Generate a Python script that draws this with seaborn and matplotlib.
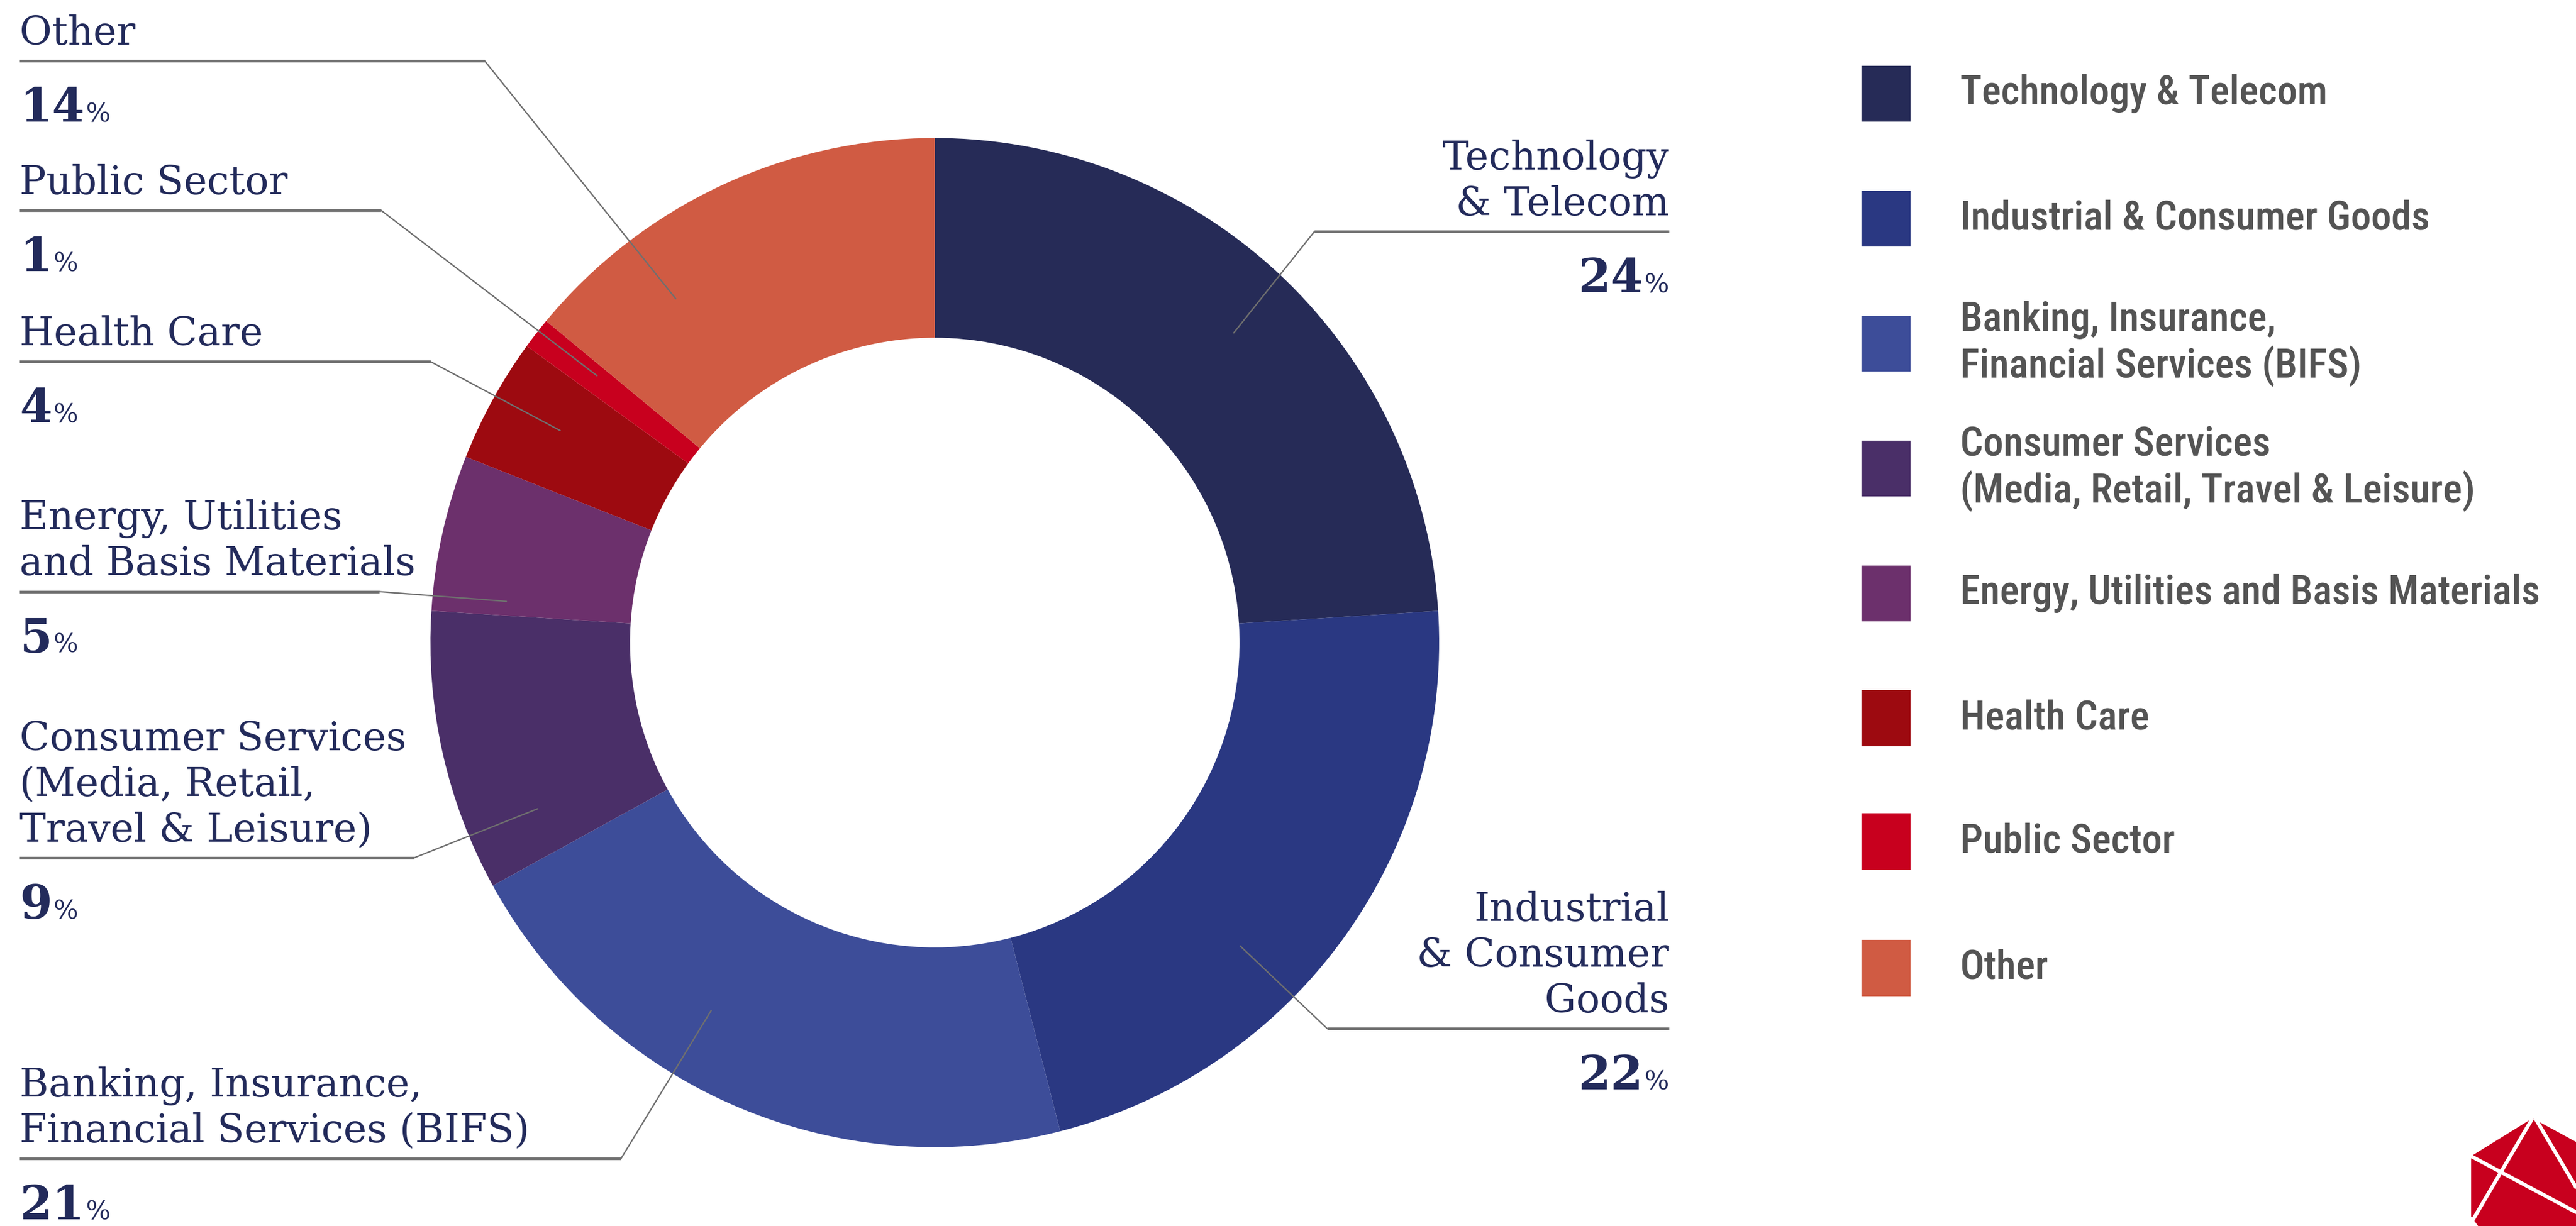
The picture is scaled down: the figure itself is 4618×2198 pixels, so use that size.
import matplotlib
matplotlib.use("Agg")
import numpy as np
import matplotlib.pyplot as plt
import seaborn as sns
from matplotlib import font_manager as fm
from matplotlib.patches import Polygon

# ---- data -------------------------------------------------------------
sectors = [
    "Technology & Telecom",
    "Industrial & Consumer Goods",
    "Banking, Insurance, Financial Services (BIFS)",
    "Consumer Services (Media, Retail, Travel & Leisure)",
    "Energy, Utilities and Basis Materials",
    "Health Care",
    "Public Sector",
    "Other",
]
shares = [24, 22, 21, 9, 5, 4, 1, 14]
callout_labels = [
    "Technology\n& Telecom",
    "Industrial\n& Consumer\nGoods",
    "Banking, Insurance,\nFinancial Services (BIFS)",
    "Consumer Services\n(Media, Retail,\nTravel & Leisure)",
    "Energy, Utilities\nand Basis Materials",
    "Health Care",
    "Public Sector",
    "Other",
]
legend_labels = [
    "Technology & Telecom",
    "Industrial & Consumer Goods",
    "Banking, Insurance,\nFinancial Services (BIFS)",
    "Consumer Services\n(Media, Retail, Travel & Leisure)",
    "Energy, Utilities and Basis Materials",
    "Health Care",
    "Public Sector",
    "Other",
]
sector_colors = ["#262b57", "#2a3882", "#3d4d99", "#4a2f68",
                 "#6c306c", "#9d0a10", "#c8001e", "#d05b43"]

# ---- layout (canvas units, y measured from the top) -------------------
W, H = 1568.0, 746.0
CX, CY = 569.0, 391.0
R_OUT, R_IN = 307.0, 185.5
# side, y of the rule under the label, x where the rule bends, anchor angle
callout_layout = [
    ("right", 141, 800, 46.0),
    ("right", 626, 808, -44.8),
    ("left", 705, 378, 238.7),
    ("left", 522, 252, 202.7),
    ("left", 360, 231, 174.5),
    ("left", 220, 262, 150.5),
    ("left", 128, 232, 141.7),
    ("left", 37, 295, 127.0),
]
ANCHOR_R = 262.0
LEFT_X, RIGHT_X = 12.0, 1016.0
legend_y = [57, 133, 209, 285, 361, 437, 512, 589]
SW_X0, SW_W, SW_H = 1133.0, 30.0, 34.0
LEG_TX = 1193.0

NAVY = "#232b5b"
RULE = "#6f6f6f"
LEG_TEXT = "#545454"

sns.set_theme(style="white")
installed = {f.name for f in fm.fontManager.ttflist}


def pick(*names):
    for n in names:
        if n in installed:
            return n
    return "DejaVu Sans"


SERIF = pick("Roboto Slab", "DejaVu Serif")
NUM_FONT = pick("Roboto Slab", "DejaVu Serif Condensed", "DejaVu Serif")
COND = pick("Roboto Condensed", "Liberation Sans Narrow", "Roboto")
plt.rcParams["font.family"] = [SERIF, "DejaVu Sans"]

DPI = 200
fig = plt.figure(figsize=(4618 / DPI, 2198 / DPI), dpi=DPI)
ax = fig.add_axes([0, 0, 1, 1])
renderer = fig.canvas.get_renderer()


def Y(y):
    return H - y


def text_width(t):
    bb = t.get_window_extent(renderer).transformed(ax.transData.inverted())
    return bb.x0, bb.x1


def fitted_size(s, family, weight, target):
    probe = ax.text(0, 0, s, fontsize=20, family=family, fontweight=weight)
    x0, x1 = text_width(probe)
    probe.remove()
    return 20 * target / (x1 - x0)


# ---- donut ------------------------------------------------------------
wedges, _ = ax.pie(
    shares,
    colors=sector_colors,
    startangle=90,
    counterclock=False,
    radius=R_OUT,
    center=(CX, Y(CY)),
    wedgeprops=dict(width=R_OUT - R_IN, linewidth=0, edgecolor="none"),
)
ax.set_xlim(0, W)
ax.set_ylim(0, H)
ax.set_aspect("auto")
ax.axis("off")

# ---- callouts ---------------------------------------------------------
label_size = fitted_size("Financial Services (BIFS)", SERIF, "normal", 310)
num_size = label_size * (1.28 if NUM_FONT != SERIF else 1.18)
pct_size = label_size * 0.66
LINE_STEP = 27.8

for value, label, (side, ry, bend, ang) in zip(shares, callout_labels, callout_layout):
    lines = label.split("\n")
    ha = "left" if side == "left" else "right"
    tx = LEFT_X if side == "left" else RIGHT_X
    base = ry - 10
    for k, line in enumerate(reversed(lines)):
        ax.text(tx, Y(base - k * LINE_STEP), line, ha=ha, va="baseline",
                fontsize=label_size, color=NAVY, family=SERIF)
    # rule and leader
    ax_x = CX + ANCHOR_R * np.cos(np.radians(ang))
    ax_y = CY - ANCHOR_R * np.sin(np.radians(ang))
    if side == "left":
        ax.plot([LEFT_X, bend], [Y(ry), Y(ry)], color=RULE, lw=1.7,
                solid_capstyle="butt", zorder=4)
    else:
        ax.plot([bend, RIGHT_X], [Y(ry), Y(ry)], color=RULE, lw=1.7,
                solid_capstyle="butt", zorder=4)
    ax.plot([bend, ax_x], [Y(ry), Y(ax_y)], color=RULE, lw=0.9, zorder=4)
    # percentage: bold figure + small percent sign
    py = Y(ry + 37)
    if side == "left":
        t = ax.text(tx, py, str(value), ha="left", va="baseline", fontsize=num_size,
                    fontweight="bold", color=NAVY, family=NUM_FONT)
        _, x1 = text_width(t)
        ax.text(x1 + 0.6, py, "%", ha="left", va="baseline", fontsize=pct_size,
                color=NAVY, family=NUM_FONT)
    else:
        t = ax.text(tx, py, "%", ha="right", va="baseline", fontsize=pct_size,
                    color=NAVY, family=NUM_FONT)
        x0, _ = text_width(t)
        ax.text(x0 - 0.6, py, str(value), ha="right", va="baseline", fontsize=num_size,
                fontweight="bold", color=NAVY, family=NUM_FONT)

# ---- legend -----------------------------------------------------------
leg_size = fitted_size("Energy, Utilities and Basis Materials", COND, "medium", 352)
for label, color, ly in zip(legend_labels, sector_colors, legend_y):
    ax.add_patch(plt.Rectangle((SW_X0, Y(ly) - SW_H / 2), SW_W, SW_H,
                               facecolor=color, edgecolor="none"))
    ax.text(LEG_TX, Y(ly), label, ha="left", va="center", fontsize=leg_size,
            color=LEG_TEXT, family=COND, fontweight="medium", linespacing=1.2)

# ---- corner mark ------------------------------------------------------
S = 4618 / W


def P(x, y):
    return (x / S, Y(y / S))


mark = [P(4430, 2072), P(4540, 2004), P(4680, 2080), P(4680, 2270),
        P(4540, 2330), P(4430, 2180)]
ax.add_patch(Polygon(mark, closed=True, facecolor="#c8001e", edgecolor="none",
                     zorder=5))
for a, b in [((4540, 2004), (4425, 2200)),
             ((4430, 2072), (4640, 2184)),
             ((4545, 2004), (4640, 2165))]:
    (x0, y0), (x1, y1) = P(*a), P(*b)
    ax.plot([x0, x1], [y0, y1], color="white", lw=2.4, zorder=6,
            solid_capstyle="butt")

fig.savefig("out.png", dpi=DPI, facecolor="white")
